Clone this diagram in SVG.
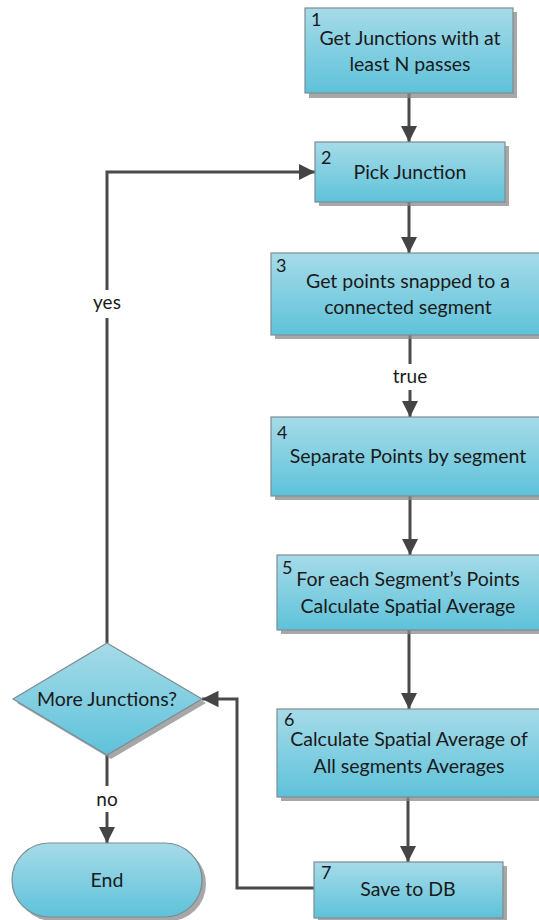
<svg xmlns="http://www.w3.org/2000/svg" width="539" height="920" viewBox="0 0 539 920">
  <style>
    .shape { fill: url(#boxFill); stroke: #7d8c92; stroke-width: 1.2; }
    .shadow { fill: #8a8a8a; opacity: 0.75; }
    .label { font-family: Lato, "Liberation Sans", sans-serif; font-size: 19.5px; fill: #1a1a1a; text-anchor: middle; }
    .num { font-family: Lato, "Liberation Sans", sans-serif; font-size: 18px; fill: #1a1a1a; }
    .edge { fill: none; stroke: #4a4a4a; stroke-width: 3; }
    .edge-label { font-family: Lato, "Liberation Sans", sans-serif; font-size: 19px; fill: #1a1a1a; text-anchor: middle; }
  </style>
  <defs>
    <linearGradient id="boxFill" x1="0" y1="0" x2="0" y2="1">
      <stop offset="0" stop-color="#a6dbe8"/>
      <stop offset="1" stop-color="#5ec2da"/>
    </linearGradient>
    <marker id="arrow" viewBox="0 0 10 10" refX="10" refY="5" markerWidth="5.5" markerHeight="5.5" orient="auto" markerUnits="strokeWidth">
      <path d="M0,0 L10,5 L0,10 z" fill="#444"/>
    </marker>
  </defs>

  <rect width="539" height="920" fill="#ffffff"/>

  <!-- connectors -->
  <g id="connectors">
    <path class="edge" d="M409,93 V142" marker-end="url(#arrow)"/>
    <path class="edge" d="M409,202 V253" marker-end="url(#arrow)"/>
    <path class="edge" d="M410,335 V364"/>
    <path class="edge" d="M410,390 V417" marker-end="url(#arrow)"/>
    <path class="edge" d="M410,496 V555" marker-end="url(#arrow)"/>
    <path class="edge" d="M409,630 V709" marker-end="url(#arrow)"/>
    <path class="edge" d="M408,797 V862" marker-end="url(#arrow)"/>
    <path class="edge" d="M314,888 H237 V699 H202" marker-end="url(#arrow)"/>
    <path class="edge" d="M107,643 V318"/>
    <path class="edge" d="M107,290 V172 H315" marker-end="url(#arrow)"/>
    <path class="edge" d="M107,755 V786"/>
    <path class="edge" d="M107,812 V843" marker-end="url(#arrow)"/>
    <text class="edge-label" x="107" y="309">yes</text>
    <text class="edge-label" x="410" y="383">true</text>
    <text class="edge-label" x="107" y="806">no</text>
  </g>

  <g id="n1">
    <rect class="shadow" x="309" y="12" width="208" height="86"/>
    <rect class="shape" x="305" y="8" width="208" height="85"/>
    <text class="num" x="311" y="26">1</text>
    <text class="label" x="410" y="45">Get Junctions with at</text>
    <text class="label" x="410" y="71">least N passes</text>
  </g>

  <g id="n2">
    <rect class="shadow" x="319" y="146" width="190" height="60"/>
    <rect class="shape" x="315" y="142" width="190" height="60"/>
    <text class="num" x="321" y="164">2</text>
    <text class="label" x="410" y="179">Pick Junction</text>
  </g>

  <g id="n3">
    <rect class="shadow" x="275" y="257" width="280" height="82"/>
    <rect class="shape" x="271" y="253" width="280" height="82"/>
    <text class="num" x="276" y="272">3</text>
    <text class="label" x="408" y="288">Get points snapped to a</text>
    <text class="label" x="408" y="314">connected segment</text>
  </g>

  <g id="n4">
    <rect class="shadow" x="275" y="421" width="280" height="79"/>
    <rect class="shape" x="271" y="417" width="280" height="79"/>
    <text class="num" x="277" y="439">4</text>
    <text class="label" x="408" y="463">Separate Points by segment</text>
  </g>

  <g id="n5">
    <rect class="shadow" x="281" y="559" width="270" height="75"/>
    <rect class="shape" x="277" y="555" width="270" height="75"/>
    <text class="num" x="282" y="574">5</text>
    <text class="label" x="408" y="586">For each Segment’s Points</text>
    <text class="label" x="408" y="613">Calculate Spatial Average</text>
  </g>

  <g id="n6">
    <rect class="shadow" x="281" y="713" width="270" height="88"/>
    <rect class="shape" x="277" y="709" width="270" height="88"/>
    <text class="num" x="284" y="726">6</text>
    <text class="label" x="409" y="746">Calculate Spatial Average of</text>
    <text class="label" x="409" y="773">All segments Averages</text>
  </g>

  <g id="n7">
    <rect class="shadow" x="318" y="866" width="189" height="56"/>
    <rect class="shape" x="314" y="862" width="189" height="56"/>
    <text class="num" x="321" y="879">7</text>
    <text class="label" x="408" y="896">Save to DB</text>
  </g>

  <g id="decision">
    <polygon class="shadow" points="111,647 206,703 111,759 17,703"/>
    <polygon class="shape" points="107,643 202,699 107,755 13,699"/>
    <text class="label" x="107" y="706">More Junctions?</text>
  </g>

  <g id="end">
    <rect class="shadow" x="16" y="847" width="190" height="74" rx="37"/>
    <rect class="shape" x="12" y="843" width="190" height="74" rx="37"/>
    <text class="label" x="107" y="887">End</text>
  </g>
</svg>
